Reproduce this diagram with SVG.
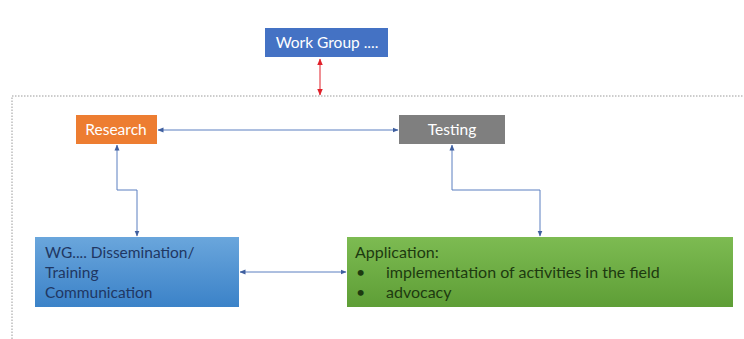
<svg xmlns="http://www.w3.org/2000/svg" width="744" height="339" viewBox="0 0 744 339">
<defs>
<style>
.lbl{font-family:Lato,"Liberation Sans",sans-serif;font-size:15.5px}
.app{font-size:16px}
.w{fill:#ffffff}
.con{fill:none;stroke:#5a7fc0;stroke-width:1}
</style>
<marker id="ab" viewBox="0 0 6 6" refX="5.5" refY="3" markerWidth="6" markerHeight="6" orient="auto-start-reverse" markerUnits="userSpaceOnUse">
<path d="M0,0.5 L6,3 L0,5.5 z" fill="#3f5f9f"/>
</marker>
<marker id="ar" viewBox="0 0 6 6" refX="5.5" refY="3" markerWidth="7" markerHeight="7" orient="auto-start-reverse" markerUnits="userSpaceOnUse">
<path d="M0,0.5 L6,3 L0,5.5 z" fill="#e0202a"/>
</marker>
<linearGradient id="gb" x1="0" y1="0" x2="0" y2="1">
<stop offset="0" stop-color="#6aa6dc"/>
<stop offset="1" stop-color="#3b82c8"/>
</linearGradient>
<linearGradient id="gg" x1="0" y1="0" x2="0" y2="1">
<stop offset="0" stop-color="#7dbb52"/>
<stop offset="1" stop-color="#5e9e36"/>
</linearGradient>
</defs>
<rect width="744" height="339" fill="#ffffff"/>
<path d="M12,339 L12,96 L744,96" fill="none" stroke="#9a9a9a" stroke-width="1" stroke-dasharray="1.5,1.5"/>
<g id="connectors">
<line x1="320" y1="59" x2="320" y2="95" stroke="#e0202a" stroke-width="1" marker-start="url(#ar)" marker-end="url(#ar)"/>
<line class="con" x1="158" y1="130" x2="398" y2="130" marker-start="url(#ab)" marker-end="url(#ab)"/>
<polyline class="con" points="117,145 117,190 137,190 137,236" marker-start="url(#ab)" marker-end="url(#ab)"/>
<polyline class="con" points="452,145 452,190 540,190 540,236" marker-start="url(#ab)" marker-end="url(#ab)"/>
<line class="con" x1="240" y1="272" x2="346" y2="272" marker-start="url(#ab)" marker-end="url(#ab)"/>
</g>
<g id="workgroup">
<rect x="265" y="28" width="123" height="29" fill="#4472c4"/>
<text class="lbl w" x="327" y="48" text-anchor="middle">Work Group ....</text>
</g>
<g id="research">
<rect x="76" y="115" width="81" height="29" fill="#ed7d31"/>
<text class="lbl w" x="116" y="135" text-anchor="middle">Research</text>
</g>
<g id="testing">
<rect x="399" y="115" width="106" height="29" fill="#7f7f7f"/>
<text class="lbl w" x="452" y="135" text-anchor="middle">Testing</text>
</g>
<g id="dissemination">
<rect x="35" y="237" width="204" height="70" fill="url(#gb)"/>
<text class="lbl" x="45" y="258" fill="#1f3763">WG.... Dissemination/</text>
<text class="lbl" x="45" y="278" fill="#1f3763">Training</text>
<text class="lbl" x="45" y="298" fill="#1f3763">Communication</text>
</g>
<g id="application">
<rect x="347" y="237" width="386" height="70" fill="url(#gg)"/>
<text class="lbl app" x="355" y="258" fill="#1d3a10">Application:</text>
<text class="lbl app" x="356" y="278" fill="#1d3a10">•</text>
<text class="lbl app" x="386" y="278" fill="#1d3a10">implementation of activities in the field</text>
<text class="lbl app" x="356" y="298" fill="#1d3a10">•</text>
<text class="lbl app" x="386" y="298" fill="#1d3a10">advocacy</text>
</g>
</svg>
